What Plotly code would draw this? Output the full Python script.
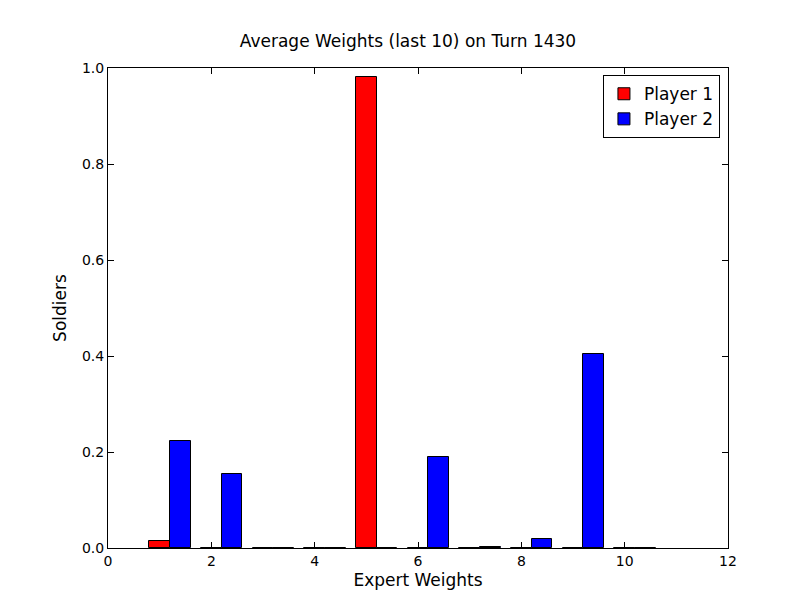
import plotly.graph_objects as go

experts = [1, 2, 3, 4, 5, 6, 7, 8, 9, 10]
player1 = [0.015, 0.0, 0.0, 0.0, 0.982, 0.0, 0.0, 0.0, 0.0, 0.0]
player2 = [0.222, 0.155, 0.0, 0.0, 0.0, 0.19, 0.003, 0.018, 0.405, 0.0]

fig = go.Figure()
fig.add_trace(go.Bar(x=experts, y=player1, name="Player 1", width=0.4, offset=-0.2,
                     marker=dict(color="#ff0000", line=dict(color="black", width=1))))
fig.add_trace(go.Bar(x=experts, y=player2, name="Player 2", width=0.4, offset=0.2,
                     marker=dict(color="#0000ff", line=dict(color="black", width=1))))

axis = dict(showline=True, linecolor="black", linewidth=1, mirror="ticks", ticks="inside",
            ticklen=6, tickcolor="black", showgrid=False, zeroline=False,
            tickfont=dict(size=14))
fig.update_layout(
    width=800, height=600, barmode="overlay",
    font=dict(family="DejaVu Sans", size=14, color="black"),
    plot_bgcolor="white", paper_bgcolor="white",
    margin=dict(l=100, r=80, t=60, b=60),
    title=dict(text="Average Weights (last 10) on Turn 1430", x=0.5, xanchor="center",
               y=0.935, yanchor="bottom", font=dict(size=17)),
    xaxis=dict(axis, range=[0, 12], dtick=2, tickformat="d",
               title=dict(text="Expert Weights", standoff=6)),
    yaxis=dict(axis, range=[0, 1.0], dtick=0.2, tickformat=".1f",
               title=dict(text="Soldiers", standoff=10)),
    legend=dict(x=0.987, y=0.985, xanchor="right", yanchor="top", bordercolor="black",
                borderwidth=1, bgcolor="white", font=dict(size=17)),
    bargap=0,
)
fig.write_html("out.html")
